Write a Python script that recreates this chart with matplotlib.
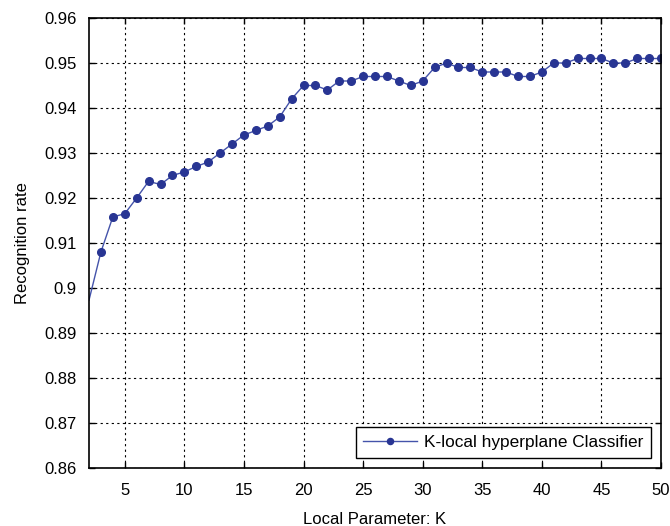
import matplotlib
matplotlib.use("Agg")
import matplotlib.pyplot as plt

plt.rcParams["font.family"] = ["Liberation Sans", "DejaVu Sans"]

k = list(range(2, 51))
rate = [0.8973, 0.908, 0.9158, 0.9165, 0.920, 0.9237, 0.923, 0.925, 0.9258, 0.927,
        0.928, 0.930, 0.932, 0.934, 0.935, 0.936, 0.938, 0.942, 0.945, 0.945,
        0.944, 0.946, 0.946, 0.947, 0.947, 0.947, 0.946, 0.945, 0.946, 0.949,
        0.950, 0.949, 0.949, 0.948, 0.948, 0.948, 0.947, 0.947, 0.948, 0.950,
        0.950, 0.951, 0.951, 0.951, 0.950, 0.950, 0.951, 0.951, 0.951]

fig = plt.figure(figsize=(6.7, 5.26), dpi=100)
ax = fig.add_axes([89 / 670, 1 - 468 / 526, 572 / 670, 450 / 526])

# first point sits on the left edge without a marker
ax.plot(k, rate, color="#4453aa", lw=1.0, marker="o", ms=5.5,
        mfc="#283593", mec="#283593", markevery=list(range(1, len(k))),
        label="K-local hyperplane Classifier")

ax.set_xlim(2, 50)
ax.set_ylim(0.86, 0.96)
ax.set_xticks(range(5, 51, 5))
ax.set_yticks([0.86, 0.87, 0.88, 0.89, 0.9, 0.91, 0.92, 0.93, 0.94, 0.95, 0.96])
ax.set_yticklabels(["0.86", "0.87", "0.88", "0.89", "0.9", "0.91", "0.92",
                    "0.93", "0.94", "0.95", "0.96"])
ax.grid(True, color="black", linestyle=(0, (2, 3)), lw=0.8)
ax.tick_params(direction="in", length=4, width=1, labelsize=12, pad=9,
               top=True, right=True)
ax.tick_params(axis="x", pad=11)
for s in ax.spines.values():
    s.set_linewidth(1.2)

ax.set_xlabel("Local Parameter: K", fontsize=12, labelpad=10)
ax.set_ylabel("Recognition rate", fontsize=12, labelpad=10)

leg = ax.legend(loc="lower right", fontsize=12.4, fancybox=False, framealpha=1,
                edgecolor="black", borderaxespad=0.6, handlelength=3.1,
                handletextpad=0.4, markerscale=0.8, borderpad=0.45)
leg.get_frame().set_linewidth(1.0)

fig.savefig("out.png", dpi=100)
